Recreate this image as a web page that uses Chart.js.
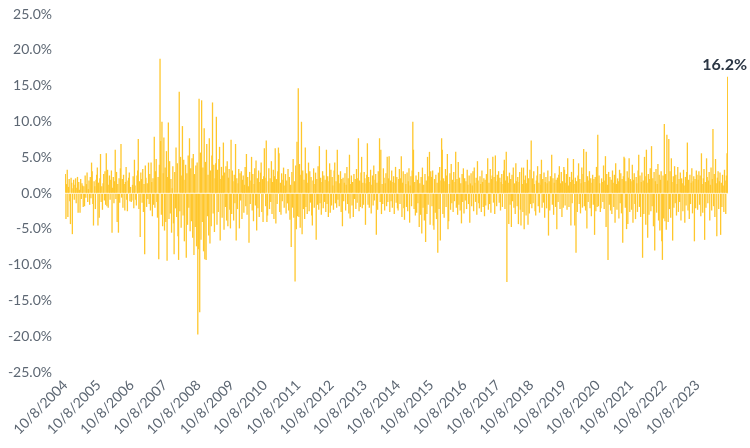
<!DOCTYPE html>
<html>
<head>
<meta charset="utf-8">
<script src="https://cdn.jsdelivr.net/npm/chart.js@4.4.1/dist/chart.umd.min.js"></script>
<style>
  html, body { margin: 0; padding: 0; background: #fff; }
  #wrap { width: 750px; height: 448px; }
</style>
</head>
<body>
<div id="wrap"><canvas id="chart"></canvas></div>
<script>
// etiquetas anuais do eixo x (uma a cada 52 semanas)
const years = ['10/8/2004', '10/8/2005', '10/8/2006', '10/8/2007', '10/8/2008', '10/8/2009',
  '10/8/2010', '10/8/2011', '10/8/2012', '10/8/2013', '10/8/2014', '10/8/2015', '10/8/2016',
  '10/8/2017', '10/8/2018', '10/8/2019', '10/8/2020', '10/8/2021', '10/8/2022', '10/8/2023'];

const yTicks = [-25, -20, -15, -10, -5, 0, 5, 10, 15, 20, 25];

// retornos semanais (%), um bloco por ano
const wk2004 = [2.6, -3.6, 1.2, 3.2, -3.3, 0.8, 1.9, -1.1, -4.3, 2.1, 1.4, -5.7, 0.6, 1.8, -0.9, 1.1, 2.0, -1.4, 0.7, 2.2, -2.7, 1.5, 0.4, -2.7, 1.9, -0.8, 1.3, 1.0, -1.9, 0.9, -1.8, 2.4, -0.6, 1.2, 2.8, -1.2, 0.5, 1.7, -1.6, 2.2, -0.7, 4.2, 3.0, -1.5, -4.5, 1.6, 0.9, -2.2, 1.8, 2.5, 3.5, -4.5];
const wk2005 = [1.4, -3.4, 2.0, 5.4, -1.2, 0.9, -2.3, 1.3, 2.6, -1.0, 3.0, -1.6, 5.5, -1.8, 3.2, -2.0, 1.1, 2.4, -0.9, 1.8, 3.1, -5.5, 0.7, 2.2, -1.4, 1.6, 6.0, -0.8, 2.9, -4.0, 1.2, -5.5, 2.0, -1.3, 3.4, 6.8, -0.6, 1.9, -2.0, 2.5, 1.2, -2.4, 1.5, 3.6, -0.9, -2.5, 1.7, 2.1, 2.8, -1.1, 0.8, -1.2];
const wk2006 = [-1.0, 1.1, 2.3, -2.1, 4.6, 1.0, -0.9, -1.7, 2.4, 3.1, 7.5, -2.2, 1.6, -6.1, 2.8, 1.9, -1.3, 3.3, -2.6, 1.2, -8.5, 3.8, 2.1, -1.9, 1.3, -0.8, 4.2, -1.5, 2.6, -2.4, 4.2, 1.5, -3.2, 2.0, -1.6, 7.8, -2.0, 3.0, 4.7, -1.2, -3.4, 2.2, -9.2, 3.9, 18.7, 7.2, -3.0, 9.9, -4.6, 2.7, 7.7, -5.2];
const wk2007 = [3.5, -4.0, 5.8, -9.4, 2.2, 9.8, -3.6, 4.4, -2.8, 1.9, -5.5, 0.6, 3.7, -4.2, -8.5, 2.9, -2.1, 6.3, -3.3, 4.1, -6.0, -9.3, 14.1, -2.5, 5.0, -4.8, 2.4, 9.3, -3.1, 4.6, -6.7, 1.8, 3.9, -9.0, 2.7, -4.4, 5.2, -2.0, 7.6, -5.3, 3.4, -3.9, 4.8, -6.2, 5.4, -8.6, 2.6, -4.7, 3.8, -7.4, 4.2, -19.7];
const wk2008 = [-7.8, 13.1, -16.6, 5.6, -6.5, 12.9, -4.0, 3.5, -8.1, 9.0, -9.2, 4.3, -9.3, 6.8, -3.2, 2.5, -5.9, 7.6, -7.0, 3.1, -4.6, 5.2, 12.6, -2.8, 3.9, -5.4, 2.0, 4.1, 10.6, -4.4, 3.2, -2.6, 4.7, 6.4, -6.6, 1.9, 3.6, -3.4, 2.4, 7.0, -5.1, 2.8, -1.9, 3.7, -3.8, 4.4, -4.6, 2.1, 3.3, -2.3, -4.9, 7.4];
const wk2009 = [-2.9, 3.1, 1.6, -3.8, 2.5, -1.4, 6.8, -6.6, 2.0, -2.2, 1.3, 3.3, -4.9, 2.7, -1.0, 3.0, -3.6, 1.8, 2.4, -2.7, 1.1, 3.6, -1.8, 5.4, -3.0, 2.2, 0.9, -6.9, 2.9, -1.5, 1.7, 5.0, -2.4, 2.6, -3.9, 1.2, 3.4, -1.7, 4.5, -5.2, 2.0, -2.1, 3.1, -3.3, 1.5, 2.8, 4.2, -2.6, 1.9, -4.0, 2.3, 6.2];
const wk2010 = [2.1, -1.8, 7.3, -4.0, -3.1, 1.6, 3.4, -2.2, 2.0, -1.2, 4.4, -2.9, 1.5, 3.2, -3.6, 2.3, 6.2, -4.2, 1.9, -1.5, 3.0, 6.3, 5.5, -2.6, 1.4, -3.0, 2.7, -1.1, 1.8, 3.5, -2.0, 1.0, 2.6, -2.8, 1.7, -1.4, 3.3, -2.4, 2.2, -3.7, 1.1, -7.5, 2.9, -2.0, 4.7, -3.4, 1.6, -12.3, 3.8, -5.0, 7.1, -3.2];
const wk2011 = [14.6, -3.3, 4.0, -4.8, 2.5, 9.9, -5.7, 3.1, -2.2, 1.8, -3.6, 6.3, -1.9, 2.7, -2.9, 1.4, 4.2, -2.5, 3.0, -1.3, 2.2, -3.1, -4.5, 1.7, 3.4, -2.0, 1.2, 2.8, -6.5, 1.9, -1.6, 3.7, -2.3, 6.5, -1.4, 2.1, -3.0, 1.5, 3.0, -2.1, 2.4, -1.2, 1.8, -2.6, 6.0, -1.5, 2.3, -3.3, 1.6, 4.1, -2.7, 3.2];
const wk2012 = [-1.7, 2.2, 1.0, -2.3, 3.1, 4.2, -1.4, 1.6, -2.0, 6.0, -0.9, 2.5, -1.8, 1.3, 3.0, -2.6, 1.9, -4.6, 2.1, -1.1, 1.4, 2.7, -2.4, 1.1, 3.6, -1.5, 2.0, -2.8, 5.3, -3.5, 1.2, 2.4, -1.7, 1.5, -3.3, 2.6, -0.8, 1.9, -2.2, 3.3, -1.3, 2.0, 7.6, -2.5, 1.7, -1.9, 2.8, 5.0, -2.1, 1.4, -1.6, 2.9];
const wk2013 = [2.0, -4.4, 1.3, 2.5, 6.9, -1.6, 2.2, -2.0, 1.5, 3.2, -2.8, 1.1, 2.4, -1.7, 3.8, -1.0, 1.8, 2.6, -5.8, 1.4, -2.3, 3.0, 1.6, 7.6, -1.2, 6.0, -2.9, 1.2, -1.5, 3.4, 2.1, -2.4, 1.3, 2.7, -1.8, 5.0, -1.2, 2.0, 5.1, -2.6, 1.7, -1.1, 3.1, -2.0, 1.5, 2.3, -2.9, 1.4, 3.6, -1.3, 2.2, -2.1];
const wk2014 = [-2.4, 1.9, 3.3, -1.5, 2.0, 5.1, -3.3, 1.4, 3.0, -2.1, -3.7, 2.6, 1.2, -1.9, 2.8, -2.5, 1.6, 3.4, -4.1, 1.0, 2.3, -1.8, 3.1, 9.9, 6.0, -2.2, 1.5, -3.1, 2.4, -2.7, 1.8, -1.4, 2.9, -4.7, 1.3, -3.0, 2.2, -5.6, 3.5, -2.0, 1.1, -3.8, 2.6, -6.8, 1.7, -2.9, 5.0, -1.6, 2.3, 5.7, -4.4, 3.0];
const wk2015 = [2.2, -1.8, 3.1, -4.5, -5.1, 1.9, -2.7, 2.5, -3.6, 1.4, -8.3, 2.8, -2.2, 3.6, -6.6, 1.7, 7.6, 6.0, -2.9, 2.0, -3.4, 1.6, 3.3, -1.9, 2.4, 5.4, -5.0, -3.9, 1.2, 2.7, -2.3, 4.0, -1.4, 1.8, -2.6, 2.9, -1.1, 1.5, 5.7, -2.0, 1.9, -3.0, 4.3, -1.6, 2.1, -2.4, 1.3, -4.2, 2.6, -1.2, 3.4, -2.8];
const wk2016 = [2.0, -1.0, 1.6, -2.2, 3.2, 1.1, -1.5, 2.4, -4.1, 1.3, 2.7, -1.8, 1.0, 3.0, -2.5, 3.5, 1.4, -1.2, 2.1, -3.0, 4.4, 1.7, -1.4, -2.1, 2.3, 1.2, -2.6, 3.1, 1.5, -1.9, 2.0, -3.2, 1.8, -1.7, 2.6, 1.0, 4.8, -2.3, 1.4, -1.5, 3.3, -2.7, 1.9, 2.4, 5.0, -1.3, 2.2, -2.9, 5.2, 1.6, -1.8, 2.5];
const wk2017 = [1.8, 3.0, -1.3, 2.1, -2.4, 1.5, 2.6, -1.9, 1.2, 3.1, 4.6, -2.2, 1.7, 5.7, -12.4, 2.3, 1.4, -4.3, 2.8, -1.6, 1.9, -4.7, 2.5, -1.1, 3.5, -2.0, 1.3, -2.9, 4.1, 1.6, -1.8, 2.2, -4.3, 1.5, 2.9, -2.3, -4.5, 3.5, 1.2, -2.6, 3.5, -5.0, 1.8, 2.4, -3.1, 1.3, 4.6, -4.4, 2.0, -2.8, 3.2, -1.5];
const wk2018 = [7.3, -2.1, 2.0, -1.4, 3.0, 1.2, -2.5, -3.1, 1.7, 2.4, 3.7, -1.8, 1.4, -2.7, 2.6, 1.1, 4.6, -2.0, 1.9, -1.3, 2.8, -3.4, 1.5, 2.2, -2.1, 1.3, 3.1, -5.9, 1.6, -2.4, 2.3, 1.0, 5.3, -1.6, 2.0, -3.0, 1.4, 2.7, -1.9, 1.8, -5.0, 2.1, -1.2, 2.5, 3.7, -2.2, 1.3, 2.9, -3.3, 1.6, -2.0, 3.6];
const wk2019 = [3.2, -1.7, 1.4, 2.6, -2.3, 4.8, 1.0, -1.9, 2.2, 1.5, -4.5, 2.9, -1.4, 1.8, 4.7, 1.2, -4.5, 2.1, -8.3, 1.6, -2.6, 2.4, 4.1, -1.5, 1.9, -2.8, 1.3, 3.5, -2.0, 2.6, 6.1, -1.8, 1.5, -2.4, 5.7, -4.9, 2.3, -1.2, 1.7, 3.0, -2.1, 2.0, -3.2, 1.4, 2.5, -1.6, 1.9, -5.8, 2.2, -2.5, 3.6, -1.9];
const wk2020 = [8.1, -1.8, 2.4, 1.3, -2.6, -2.1, 2.0, 1.5, -1.2, 3.8, -2.2, 1.7, 5.1, -4.7, 2.6, 1.1, -9.3, 2.9, -1.6, 2.2, -2.4, 1.8, -2.9, 3.1, 1.4, -1.9, 2.5, -4.1, 4.1, 1.2, -2.3, 2.0, 1.6, -3.5, 3.2, -1.4, 2.7, -2.8, 1.9, -6.9, 2.3, 5.0, 4.8, -2.0, 1.6, -5.0, 3.0, -4.3, 2.1, 4.8, -2.6, 1.9];
const wk2021 = [1.6, -2.3, 3.9, -4.1, 1.8, 2.7, -1.5, -3.6, 2.2, 1.3, -2.6, 3.1, 5.3, -1.9, 2.4, -3.3, 1.5, 2.8, -9.0, 1.7, -2.9, 5.0, 2.3, -4.4, 6.0, 1.4, -6.2, 2.6, -3.0, 1.9, 3.4, -2.5, 6.5, -1.8, 2.0, -4.6, 2.9, -8.0, 1.6, 3.3, -2.7, 1.2, 4.0, -3.8, 2.5, -5.2, 1.8, 3.0, -6.7, -9.3, 2.4, -3.5];
const wk2022 = [9.6, -3.9, 2.6, -5.1, 8.1, 1.7, -4.0, 7.5, -2.2, 3.0, -3.4, 4.8, 1.5, -6.6, 2.3, -2.0, 3.7, -1.4, 2.5, -3.1, 1.2, 3.6, -2.6, 1.9, -1.2, 2.8, -3.8, 2.0, 1.3, -2.5, 3.2, 1.0, -4.1, 2.2, -1.7, 2.9, 7.0, -2.4, 1.8, -3.6, 2.5, -1.5, 1.4, 3.4, -2.8, 1.6, 2.3, -6.7, 1.9, -2.1, 3.1, 2.5];
const wk2023 = [-2.3, 1.8, 3.0, -1.6, 2.4, -3.2, 5.5, 1.2, -2.7, 2.0, 3.3, -6.5, 1.5, -2.0, 4.8, 2.2, -1.4, 1.7, 2.9, -3.8, 1.1, 3.5, -2.4, 1.9, 8.9, -1.8, 2.6, -3.3, 4.7, 1.3, -6.0, 2.1, 3.0, -2.2, 1.6, 2.8, -5.8, 1.4, -1.9, 2.5, 1.0, -2.6, 3.2, 1.7, -2.9, 2.4, 5.5, 16.2];

const returns = [].concat(wk2004, wk2005, wk2006, wk2007, wk2008, wk2009, wk2010, wk2011,
  wk2012, wk2013, wk2014, wk2015, wk2016, wk2017, wk2018, wk2019, wk2020, wk2021, wk2022, wk2023);

const labels = returns.map((v, i) => (i % 52 === 0 ? years[i / 52] : ''));

const grey = '#5d6773';

// rotulo do ultimo valor acima da barra
const lastLabel = {
  id: 'lastLabel',
  afterDatasetsDraw(chart) {
    const meta = chart.getDatasetMeta(0);
    const bar = meta.data[meta.data.length - 1];
    const ctx = chart.ctx;
    ctx.save();
    ctx.font = 'bold 16px Lato';
    ctx.fillStyle = '#2b3644';
    ctx.textAlign = 'center';
    ctx.textBaseline = 'alphabetic';
    ctx.fillText(returns[returns.length - 1].toFixed(1) + '%', bar.x - 3, bar.y - 7);
    ctx.restore();
  }
};

const ctx = document.getElementById('chart').getContext('2d');
const chart = new Chart(ctx, {
  type: 'bar',
  data: {
    labels: labels,
    datasets: [{
      data: returns,
      backgroundColor: '#FFC72C',
      barPercentage: 1,
      categoryPercentage: 1,
      borderWidth: 0
    }]
  },
  options: {
    responsive: true,
    maintainAspectRatio: false,
    animation: false,
    layout: { padding: { left: 6, right: 22, top: 14, bottom: 0 } },
    plugins: {
      legend: { display: false },
      tooltip: { enabled: false }
    },
    scales: {
      x: {
        grid: { display: false, drawTicks: false },
        border: { display: false },
        // os rotulos inclinados nao devem empurrar a area do grafico
        afterFit: s => { s.paddingLeft = 0; s.paddingRight = 0; s.height = 76; },
        ticks: {
          autoSkip: false,
          minRotation: 45,
          maxRotation: 45,
          padding: 5,
          color: grey,
          font: { family: 'Lato', size: 14 },
          callback: (v, i) => labels[i]
        }
      },
      y: {
        min: yTicks[0],
        max: yTicks[yTicks.length - 1],
        afterBuildTicks: axis => { axis.ticks = yTicks.map(v => ({ value: v })); },
        afterFit: s => { s.paddingTop = 0; s.paddingBottom = 0; s.width = 59; },
        grid: {
          z: 1,
          drawTicks: false,
          color: c => (c.tick && c.tick.value === 0 ? '#FFF1CC' : 'rgba(0,0,0,0)')
        },
        border: { display: false },
        ticks: {
          padding: 13,
          color: grey,
          font: { family: 'Lato', size: 14 },
          callback: v => v.toFixed(1) + '%'
        }
      }
    }
  },
  plugins: [lastLabel]
});
</script>
</body>
</html>
